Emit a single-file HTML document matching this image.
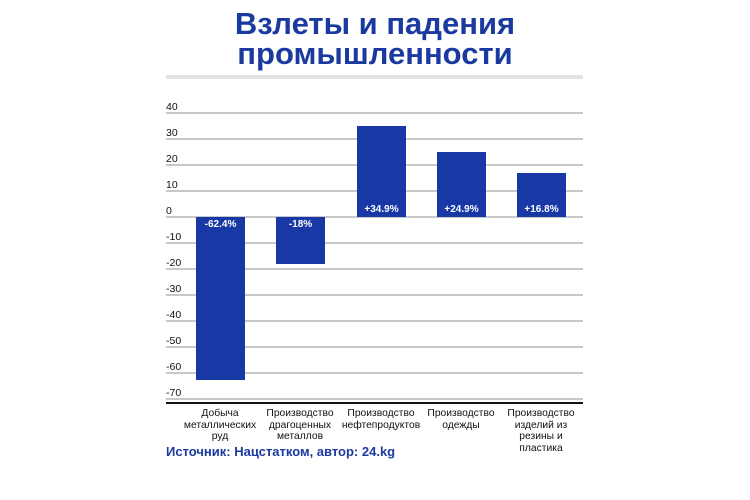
<!DOCTYPE html>
<html><head><meta charset="utf-8"><style>
body{margin:0;background:#fff;width:750px;height:500px;overflow:hidden;position:relative;font-family:"Liberation Sans",sans-serif}
.t{position:absolute;left:0;width:750px;text-align:center;color:#1a3aa0;font-weight:bold;font-size:31px;line-height:31px}
.g{position:absolute;left:166px;width:417px;height:2px;background:#c8c8c8}
.yl{position:absolute;left:166px;font-size:10.5px;color:#111}
.b{position:absolute;width:49px;background:#1838a6}
.v{position:absolute;width:49px;text-align:center;color:#fff;font-weight:bold;font-size:10px}
.xl{position:absolute;width:84px;text-align:center;font-size:10.3px;line-height:11.7px;color:#111}
</style></head><body>
<div class="t" style="top:8px">Взлеты и падения</div>
<div class="t" style="top:38px">промышленности</div>
<div style="position:absolute;left:166px;top:75px;width:417px;height:4px;background:#e4e4e4"></div>
<div class="g" style="top:112px"></div><div class="yl" style="top:101px">40</div>
<div class="g" style="top:138px"></div><div class="yl" style="top:127px">30</div>
<div class="g" style="top:164px"></div><div class="yl" style="top:153px">20</div>
<div class="g" style="top:190px"></div><div class="yl" style="top:179px">10</div>
<div class="g" style="top:216px"></div><div class="yl" style="top:205px">0</div>
<div class="g" style="top:242px"></div><div class="yl" style="top:231px">-10</div>
<div class="g" style="top:268px"></div><div class="yl" style="top:257px">-20</div>
<div class="g" style="top:294px"></div><div class="yl" style="top:283px">-30</div>
<div class="g" style="top:320px"></div><div class="yl" style="top:309px">-40</div>
<div class="g" style="top:346px"></div><div class="yl" style="top:335px">-50</div>
<div class="g" style="top:372px"></div><div class="yl" style="top:361px">-60</div>
<div class="g" style="top:398px"></div><div class="yl" style="top:387px">-70</div>
<div style="position:absolute;left:166px;top:402px;width:417px;height:2px;background:#111"></div>
<div class="b" style="left:196px;top:217px;height:163px"></div><div class="v" style="left:196px;top:219px">-62.4%</div>
<div class="b" style="left:276px;top:217px;height:47px"></div><div class="v" style="left:276px;top:219px">-18%</div>
<div class="b" style="left:357px;top:126px;height:91px"></div><div class="v" style="left:357px;top:204px">+34.9%</div>
<div class="b" style="left:437px;top:152px;height:65px"></div><div class="v" style="left:437px;top:204px">+24.9%</div>
<div class="b" style="left:517px;top:173px;height:44px"></div><div class="v" style="left:517px;top:204px">+16.8%</div>
<div class="xl" style="left:178px;top:408px">Добыча металлических руд</div>
<div class="xl" style="left:258px;top:408px">Производство драгоценных металлов</div>
<div class="xl" style="left:334px;top:408px;width:94px">Производство нефтепродуктов</div>
<div class="xl" style="left:419px;top:408px">Производство одежды</div>
<div class="xl" style="left:499px;top:408px">Производство изделий из резины и пластика</div>
<div style="position:absolute;left:166px;top:444px;font-size:13px;font-weight:bold;color:#1a3aa0">Источник: Нацстатком, автор: 24.kg</div>
</body></html>
